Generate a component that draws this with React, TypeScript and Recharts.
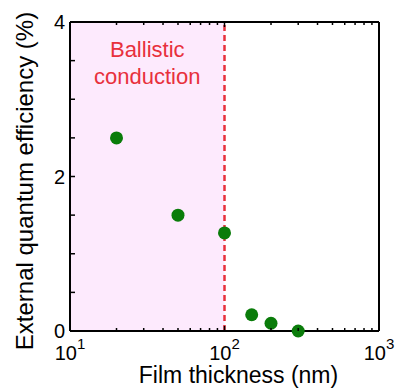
import React from 'react'
import {
  ScatterChart, Scatter, XAxis, YAxis, ReferenceArea, ReferenceLine, Label,
} from 'recharts'

const thickness = [20, 50, 100, 150, 200, 300]
const eqe = [2.5, 1.5, 1.27, 0.21, 0.1, 0.0]

const xDomain = [10, 1000]
const xTicks = [10, 20, 30, 40, 50, 60, 70, 80, 90, 100, 200, 300, 400, 500, 600, 700, 800, 900, 1000]
const xDecades = [10, 100, 1000]
const yTicks = [0, 0.5, 1, 1.5, 2, 2.5, 3, 3.5, 4]
const yLabels = [0, 2, 4]
const ballisticEdge = 100

const FONT = '"Liberation Sans", Arial, sans-serif'
const GREEN = '#0a7c0a'
const RED = '#e8303c'
const PINK = '#fdeafd'

const data = thickness.map((t, i) => ({ t, v: eqe[i] }))

const BottomTick = (p: any) => {
  const v = p.payload.value
  const major = xDecades.includes(v)
  return (
    <g>
      <line x1={p.x} x2={p.x} y1={p.y} y2={p.y - (major ? 5 : 3)} stroke="#000" strokeWidth={1.5} />
      {major && (
        <text x={p.x} y={p.y + 29} textAnchor="middle" fontFamily={FONT} fontSize={20} fill="#000">
          <tspan>10</tspan>
          <tspan dy={-11} fontSize={15}>{Math.round(Math.log10(v))}</tspan>
        </text>
      )}
    </g>
  )
}

const TopTick = (p: any) => {
  const major = xDecades.includes(p.payload.value)
  return <line x1={p.x} x2={p.x} y1={p.y} y2={p.y + (major ? 5 : 3)} stroke="#000" strokeWidth={1.5} />
}

const LeftTick = (p: any) => {
  const v = p.payload.value
  return (
    <g>
      <line x1={p.x} x2={p.x + 5} y1={p.y} y2={p.y} stroke="#000" strokeWidth={1.5} />
      {yLabels.includes(v) && (
        <text x={p.x - 5} y={p.y + 7} textAnchor="end" fontFamily={FONT} fontSize={20} fill="#000">{v}</text>
      )}
    </g>
  )
}

const RightTick = (p: any) => (
  <line x1={p.x} x2={p.x - 5} y1={p.y} y2={p.y} stroke="#000" strokeWidth={1.5} />
)

export default function App() {
  return (
    <div style={{ position: 'absolute', left: 0, top: 0, background: '#fff' }}>
      <ScatterChart width={396} height={390} margin={{ top: 21, right: 16, left: 0, bottom: 0 }}>
        <ReferenceArea
          x1={xDomain[0]} x2={ballisticEdge} y1={0} y2={4}
          fill={PINK} fillOpacity={1} stroke="none"
          label={(lp: any) => {
            const vb = lp.viewBox
            const cx = vb.x + vb.width / 2
            return (
              <text textAnchor="middle" fontFamily={FONT} fontSize={22} fill={RED}>
                <tspan x={cx} y={vb.y + 35}>Ballistic</tspan>
                <tspan x={cx} y={vb.y + 62}>conduction</tspan>
              </text>
            )
          }}
        />
        <ReferenceLine x={ballisticEdge} stroke={RED} strokeWidth={2.5} strokeDasharray="6 4" />
        <XAxis
          dataKey="t" type="number" scale="log" domain={xDomain} ticks={xTicks}
          allowDataOverflow height={59} tickSize={0} tickMargin={0} tickLine={false}
          axisLine={{ stroke: '#000', strokeWidth: 2 }} tick={<BottomTick />} interval={0}
        >
          <Label
            content={(lp: any) => {
              const vb = lp.viewBox
              return (
                <text x={vb.x + vb.width / 2 + 14} y={vb.y + 52} textAnchor="middle" fontFamily={FONT} fontSize={23} fill="#000">
                  Film thickness (nm)
                </text>
              )
            }}
          />
        </XAxis>
        <XAxis
          xAxisId="top" orientation="top" dataKey="t" type="number" scale="log" domain={xDomain} ticks={xTicks}
          allowDataOverflow height={1} tickSize={0} tickMargin={0} tickLine={false}
          axisLine={{ stroke: '#000', strokeWidth: 2 }} tick={<TopTick />} interval={0}
        />
        <YAxis
          dataKey="v" type="number" domain={[0, 4]} ticks={yTicks} width={70}
          tickSize={0} tickMargin={0} tickLine={false}
          axisLine={{ stroke: '#000', strokeWidth: 2 }} tick={<LeftTick />} interval={0}
        >
          <Label
            content={(lp: any) => {
              const vb = lp.viewBox
              const cy = vb.y + vb.height / 2 + 4.5
              return (
                <text x={33} y={cy} transform={`rotate(-90, 33, ${cy})`} textAnchor="middle" fontFamily={FONT} fontSize={24} fill="#000">
                  External quantum efficiency (%)
                </text>
              )
            }}
          />
        </YAxis>
        <YAxis
          yAxisId="right" orientation="right" dataKey="v" type="number" domain={[0, 4]} ticks={yTicks} width={1}
          tickSize={0} tickMargin={0} tickLine={false}
          axisLine={{ stroke: '#000', strokeWidth: 2 }} tick={<RightTick />} interval={0}
        />
        <Scatter
          data={data}
          isAnimationActive={false}
          shape={(sp: any) => <circle cx={sp.cx} cy={sp.cy} r={6.5} fill={GREEN} />}
        />
      </ScatterChart>
    </div>
  )
}
